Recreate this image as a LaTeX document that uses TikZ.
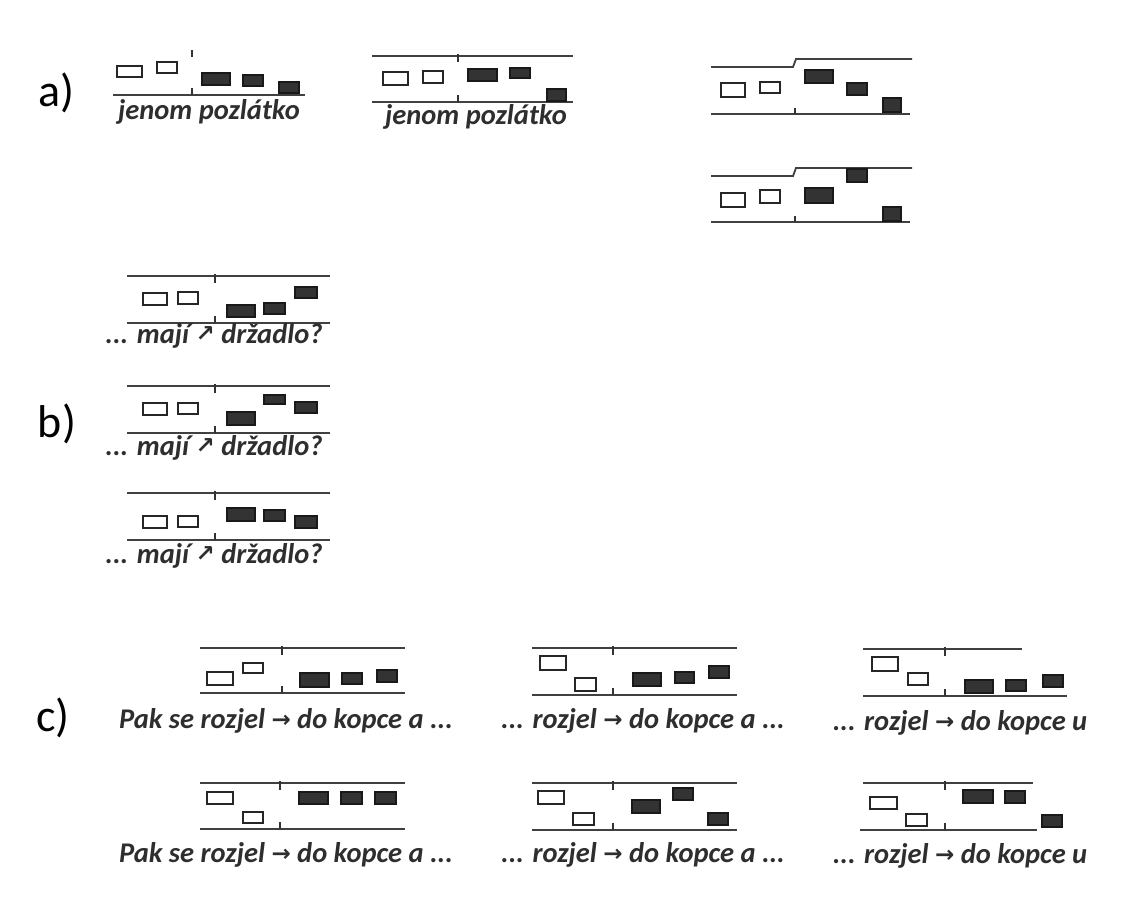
\documentclass[tikz,border=0pt]{standalone}
\usepackage{fontspec}
\setmainfont{Carlito}
\newfontfamily\arrowfont{DejaVu Sans}
\tikzset{
  wb/.style={draw=black!85, line width=2.2pt, fill=white},
  bb/.style={draw=black!90, line width=1.6pt, fill=black!80},
  staff/.style={draw=black!75, line width=1.8pt},
  tickmark/.style={draw=black!80, line width=2.6pt},
  lbl/.style={inner sep=0pt, font=\fontsize{46}{50}\selectfont},
  captxt/.style={inner sep=0pt, anchor=base, font=\fontsize{28.5}{31}\selectfont\bfseries\itshape, text=black!82},
}
\newcommand{\ra}{{\arrowfont\fontsize{23}{23}\selectfont\raisebox{1pt}{→}}}
\newcommand{\nea}{{\arrowfont\fontsize{23}{23}\selectfont\raisebox{2pt}{↗}}}
\begin{document}
\begin{tikzpicture}[x=1pt,y=-1pt]
\useasboundingbox[fill=white] (0,0) rectangle (1131,916);

% labels
\node[lbl] (la) at (56,93) {a)};
\node[lbl] (lb) at (57,424) {b)};
\node[lbl] (lc) at (53,718) {c)};

% ---------- a1
\draw[staff] (113,95) -- (305,95);
\draw[tickmark] (192,50) -- (192,57);
\draw[tickmark] (192,88) -- (192,95);
\draw[wb] (117,66) rectangle (142,77);
\draw[wb] (157,62) rectangle (177,73);
\draw[bb] (202,73) rectangle (230,85);
\draw[bb] (243,75) rectangle (263,86);
\draw[bb] (279,82) rectangle (299,93);
\node[captxt] (ta1) at (209,119) {jenom pozlátko};

% ---------- a2
\draw[staff] (372,56) -- (573,56);
\draw[staff] (372,102) -- (573,102);
\draw[tickmark] (458,54) -- (458,62);
\draw[tickmark] (458,95) -- (458,102);
\draw[wb] (383,72) rectangle (408,85);
\draw[wb] (423,71) rectangle (443,83);
\draw[bb] (468,69) rectangle (497,81);
\draw[bb] (510,68) rectangle (530,78);
\draw[bb] (547,89) rectangle (566,101);
\node[captxt] (ta2) at (476,124) {jenom pozlátko};

% ---------- a3
\draw[staff] (711,67) -- (793,67) -- (796,59) -- (912,59);
\draw[staff] (711,114) -- (910,114);
\draw[tickmark] (795,108) -- (795,114);
\draw[wb] (721,83) rectangle (745,97);
\draw[wb] (760,82) rectangle (780,93);
\draw[bb] (805,70) rectangle (833,83);
\draw[bb] (847,83) rectangle (867,95);
\draw[bb] (883,98) rectangle (901,112);

% ---------- a4
\draw[staff] (711,176) -- (793,176) -- (796,168) -- (912,168);
\draw[staff] (711,222) -- (910,222);
\draw[tickmark] (795,216) -- (795,222);
\draw[wb] (721,193) rectangle (745,207);
\draw[wb] (760,190) rectangle (780,203);
\draw[bb] (805,188) rectangle (833,203);
\draw[bb] (847,169) rectangle (867,182);
\draw[bb] (883,207) rectangle (901,221);

% ---------- b1
\draw[staff] (127,276) -- (330,276);
\draw[staff] (127,323) -- (330,323);
\draw[tickmark] (215,274) -- (215,283);
\draw[tickmark] (215,316) -- (215,323);
\draw[wb] (143,293) rectangle (167,305);
\draw[wb] (178,292) rectangle (198,304);
\draw[bb] (227,305) rectangle (255,317);
\draw[bb] (264,303) rectangle (285,314);
\draw[bb] (295,287) rectangle (317,298);
\node[captxt] (tb1) at (214,343) {... mají \nea\ držadlo?};

% ---------- b2
\draw[staff] (127,386) -- (330,386);
\draw[staff] (127,433) -- (330,433);
\draw[tickmark] (215,384) -- (215,393);
\draw[tickmark] (215,426) -- (215,433);
\draw[wb] (143,403) rectangle (167,415);
\draw[wb] (178,403) rectangle (198,414);
\draw[bb] (227,412) rectangle (255,425);
\draw[bb] (264,395) rectangle (285,404);
\draw[bb] (295,402) rectangle (317,413);
\node[captxt] (tb2) at (214,455) {... mají \nea\ držadlo?};

% ---------- b3
\draw[staff] (127,493) -- (330,493);
\draw[staff] (127,540) -- (330,540);
\draw[tickmark] (215,491) -- (215,500);
\draw[tickmark] (215,533) -- (215,540);
\draw[wb] (143,516) rectangle (167,528);
\draw[wb] (178,516) rectangle (198,527);
\draw[bb] (227,508) rectangle (255,521);
\draw[bb] (264,510) rectangle (285,521);
\draw[bb] (295,516) rectangle (317,528);
\node[captxt] (tb3) at (214,563) {... mají \nea\ držadlo?};

% ---------- c1
\draw[staff] (200,648) -- (405,648);
\draw[staff] (200,693) -- (405,693);
\draw[tickmark] (282,646) -- (282,655);
\draw[tickmark] (282,686) -- (282,693);
\draw[wb] (207,672) rectangle (233,685);
\draw[wb] (243,663) rectangle (263,673);
\draw[bb] (300,673) rectangle (329,687);
\draw[bb] (342,673) rectangle (362,684);
\draw[bb] (377,670) rectangle (397,682);
\node[captxt] (tc1) at (286,728) {Pak se rozjel \ra\ do kopce a ...};

% ---------- c4
\draw[staff] (200,783) -- (405,783);
\draw[staff] (200,829) -- (405,829);
\draw[tickmark] (280,781) -- (280,790);
\draw[tickmark] (280,822) -- (280,829);
\draw[wb] (207,792) rectangle (233,804);
\draw[wb] (243,812) rectangle (263,823);
\draw[bb] (299,792) rectangle (328,804);
\draw[bb] (341,792) rectangle (362,804);
\draw[bb] (375,792) rectangle (396,804);
\node[captxt] (tc4) at (286,862) {Pak se rozjel \ra\ do kopce a ...};

% ---------- c2
\draw[staff] (532,648) -- (737,648);
\draw[staff] (532,695) -- (737,695);
\draw[tickmark] (613,646) -- (613,655);
\draw[tickmark] (613,688) -- (613,695);
\draw[wb] (540,656) rectangle (566,670);
\draw[wb] (575,678) rectangle (596,691);
\draw[bb] (633,673) rectangle (661,686);
\draw[bb] (675,672) rectangle (694,683);
\draw[bb] (709,666) rectangle (729,678);
\node[captxt] (tc2) at (643,728) {... rozjel \ra\ do kopce a ...};

% ---------- c5
\draw[staff] (532,783) -- (737,783);
\draw[staff] (532,830) -- (737,830);
\draw[tickmark] (613,781) -- (613,790);
\draw[tickmark] (613,823) -- (613,830);
\draw[wb] (538,791) rectangle (564,804);
\draw[wb] (573,813) rectangle (594,825);
\draw[bb] (632,800) rectangle (660,813);
\draw[bb] (673,788) rectangle (693,800);
\draw[bb] (708,813) rectangle (728,825);
\node[captxt] (tc5) at (643,862) {... rozjel \ra\ do kopce a ...};

% ---------- c3
\draw[staff] (863,649) -- (1022,649);
\draw[staff] (863,696) -- (1067,696);
\draw[tickmark] (945,647) -- (945,656);
\draw[tickmark] (945,689) -- (945,696);
\draw[wb] (872,657) rectangle (898,671);
\draw[wb] (908,673) rectangle (928,685);
\draw[bb] (965,680) rectangle (993,693);
\draw[bb] (1006,680) rectangle (1026,691);
\draw[bb] (1043,675) rectangle (1063,687);
\node[captxt] (tc3) at (960,730) {... rozjel \ra\ do kopce u};

% ---------- c6
\draw[staff] (863,783) -- (1033,783);
\draw[staff] (860,830) -- (1037,830);
\draw[tickmark] (945,781) -- (945,790);
\draw[tickmark] (945,823) -- (945,830);
\draw[wb] (870,797) rectangle (897,809);
\draw[wb] (906,814) rectangle (927,826);
\draw[bb] (963,790) rectangle (993,803);
\draw[bb] (1005,791) rectangle (1025,803);
\draw[bb] (1042,815) rectangle (1062,827);
\node[captxt] (tc6) at (960,863) {... rozjel \ra\ do kopce u};

\end{tikzpicture}
\end{document}
